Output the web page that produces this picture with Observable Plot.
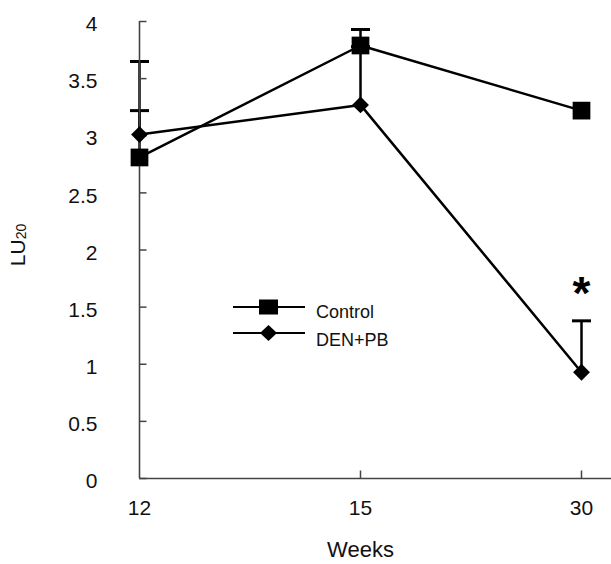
<!DOCTYPE html>
<html>
<head>
<meta charset="utf-8">
<script src="https://cdn.jsdelivr.net/npm/d3@7"></script>
<script src="https://cdn.jsdelivr.net/npm/@observablehq/plot@0.6"></script>
<style>
  html, body { margin: 0; padding: 0; background: white; }
</style>
</head>
<body>
<div id="chart"></div>
<script>
// ---- data ----
const weeks = ["12", "15", "30"];
const seriesNames = ["Control", "DEN+PB"];
const controlValues = [2.81, 3.79, 3.22];
const controlUpper = [3.22, 3.93, null];
const denpbValues = [3.01, 3.27, 0.93];
const denpbUpper = [3.65, 3.78, 1.38];
const yTicks = [0, 0.5, 1, 1.5, 2, 2.5, 3, 3.5, 4];
const significance = [{week: "30", y: 1.38, label: "*"}];

// ---- tables built from arrays ----
const control = weeks.map((w, i) => ({week: w, value: controlValues[i], upper: controlUpper[i]}));
const denpb = weeks.map((w, i) => ({week: w, value: denpbValues[i], upper: denpbUpper[i]}));
const errors = [...control, ...denpb].filter(d => d.upper != null);

// custom line symbols
const hbar = w => ({draw(ctx) { ctx.moveTo(-w / 2, 0); ctx.lineTo(w / 2, 0); }});
const tickUp = h => ({draw(ctx) { ctx.moveTo(0, 0); ctx.lineTo(0, -h); }});
const tickRight = w => ({draw(ctx) { ctx.moveTo(0, 0); ctx.lineTo(w, 0); }});

const axisColor = "#444";
const font = "'Liberation Sans', Arial, Helvetica, sans-serif";

const chart = Plot.plot({
  width: 611,
  height: 564,
  marginLeft: 139,
  marginRight: 0,
  marginTop: 21,
  marginBottom: 86,
  style: {fontFamily: font, fontSize: "20px", color: "black", background: "white"},
  x: {type: "point", domain: weeks, range: [139, 581], padding: 0, label: null},
  y: {domain: [0, 4], label: null},
  marks: [
    // axes labels
    Plot.axisY(yTicks, {tickSize: 0, tickPadding: 42, dy: 3, fontSize: 21, tickFormat: d => String(d), fill: "#111"}),
    Plot.axisX(weeks, {tickSize: 0, tickPadding: 22, fontSize: 21, fill: "#111"}),
    // series lines
    Plot.line(control, {x: "week", y: "value", stroke: "black", strokeWidth: 2.5}),
    Plot.line(denpb, {x: "week", y: "value", stroke: "black", strokeWidth: 2.5}),
    // error bars
    Plot.ruleX(errors, {x: "week", y1: "value", y2: "upper", stroke: "black", strokeWidth: 2.5}),
    Plot.dot(errors, {x: "week", y: "upper", symbol: hbar(19), fill: "none", stroke: "black", strokeWidth: 3}),
    // axis lines and inward ticks
    Plot.ruleX([weeks[0]], {stroke: axisColor, strokeWidth: 1.6}),
    Plot.ruleY([0], {stroke: axisColor, strokeWidth: 1.6}),
    Plot.dot(yTicks, {x: () => weeks[0], y: d => d, symbol: tickRight(7), fill: "none", stroke: axisColor, strokeWidth: 1.5}),
    Plot.dot(weeks.slice(1), {x: d => d, y: () => 0, symbol: tickUp(8), fill: "none", stroke: axisColor, strokeWidth: 1.5}),
    // markers
    Plot.dot(control, {x: "week", y: "value", symbol: "square", r: 10, fill: "black", stroke: "none"}),
    Plot.dot(denpb, {x: "week", y: "value", symbol: "diamond2", r: 7.6, fill: "black", stroke: "none"}),
    // significance
    Plot.text(significance, {x: "week", y: "y", text: "label", dy: -27, fontSize: 46, fontWeight: "bold", fill: "black"}),
    // x title
    Plot.text(["Weeks"], {x: () => weeks[1], frameAnchor: "bottom", dy: 78, fontSize: 22, fill: "#111"})
  ]
});

document.getElementById("chart").appendChild(chart);

// ---- y-axis title with subscript ----
const svg = d3.select(chart);
const ylab = svg.append("text")
  .attr("transform", "translate(25,245) rotate(-90)")
  .attr("text-anchor", "middle")
  .attr("font-family", font)
  .attr("font-size", 21)
  .attr("fill", "#111");
ylab.append("tspan").text("LU");
ylab.append("tspan").attr("font-size", 14).attr("dy", 1).text("20");

// ---- legend ----
const legend = svg.append("g").attr("font-family", font).attr("font-size", 18).attr("text-anchor", "start");
const legendRows = [
  {name: seriesNames[0], lineY: 307, textY: 318, symbol: "square"},
  {name: seriesNames[1], lineY: 333, textY: 346, symbol: "diamond"}
];
legendRows.forEach(r => {
  legend.append("line").attr("x1", 233).attr("x2", 305).attr("y1", r.lineY).attr("y2", r.lineY)
    .attr("stroke", "black").attr("stroke-width", 2);
  if (r.symbol === "square") {
    legend.append("rect").attr("x", 259).attr("y", r.lineY - 7.5).attr("width", 19).attr("height", 15).attr("fill", "black");
  } else {
    legend.append("path").attr("d", `M268.5,${r.lineY - 8}L277,${r.lineY}L268.5,${r.lineY + 8}L260,${r.lineY}Z`).attr("fill", "black");
  }
  legend.append("text").attr("x", 316).attr("y", r.textY).attr("fill", "#111").text(r.name);
});
</script>
</body>
</html>
